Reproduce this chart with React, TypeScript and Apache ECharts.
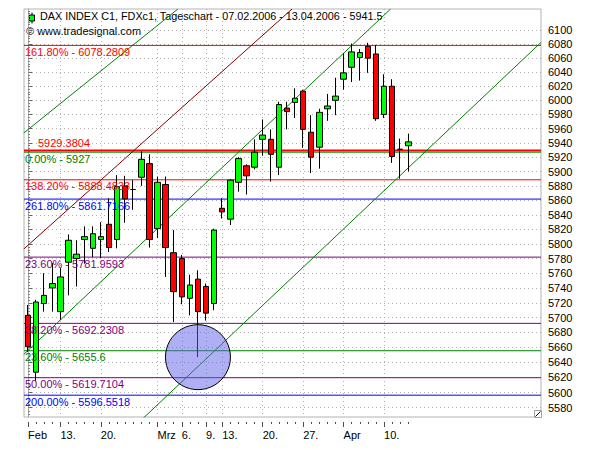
import React, { useEffect, useRef } from "react";
import * as echarts from "echarts";

// ---- data ----
const dates = [
  "07.02.2006", "08.02.2006", "09.02.2006", "10.02.2006", "13.02.2006", "14.02.2006", "15.02.2006", "16.02.2006",
  "17.02.2006", "20.02.2006", "21.02.2006", "22.02.2006", "23.02.2006", "24.02.2006", "27.02.2006", "28.02.2006",
  "01.03.2006", "02.03.2006", "03.03.2006", "06.03.2006", "07.03.2006", "08.03.2006", "09.03.2006", "10.03.2006",
  "13.03.2006", "14.03.2006", "15.03.2006", "16.03.2006", "17.03.2006", "20.03.2006", "21.03.2006", "22.03.2006",
  "23.03.2006", "24.03.2006", "27.03.2006", "28.03.2006", "29.03.2006", "30.03.2006", "31.03.2006", "03.04.2006",
  "04.04.2006", "05.04.2006", "06.04.2006", "07.04.2006", "10.04.2006", "11.04.2006", "12.04.2006", "13.04.2006",
];
const openP = [5703, 5627, 5719, 5740, 5708, 5775, 5780, 5806, 5794, 5806, 5827, 5806, 5880, 5875, 5892, 5911, 5821, 5882, 5788, 5780, 5726, 5752, 5742, 5719, 5849, 5834, 5885, 5908, 5906, 5945, 5945, 5906, 5989, 5997, 6013, 5955, 5934, 5988, 6000, 6030, 6047, 6061, 6077, 6066, 5980, 6020, 5931, 5936];
const closeP = [5661, 5721, 5730, 5746, 5755, 5805, 5786, 5810, 5814, 5810, 5795, 5879, 5862, 5875, 5917, 5806, 5885, 5795, 5735, 5728, 5744, 5708, 5706, 5819, 5844, 5888, 5918, 5894, 5927, 5951, 5924, 5994, 5984, 6003, 5959, 5920, 5983, 5992, 6006, 6039, 6069, 6068, 6060, 5974, 6020, 5921, 5931, 5941.5];
const lowP = [5654, 5615, 5708, 5708, 5697, 5730, 5742, 5773, 5782, 5781, 5789, 5794, 5829, 5847, 5880, 5795, 5808, 5755, 5694, 5718, 5703, 5647, 5696, 5710, 5835, 5826, 5872, 5868, 5903, 5922, 5886, 5895, 5959, 5975, 5933, 5898, 5904, 5971, 5979, 6015, 6026, 6028, 6039, 5971, 5975, 5912, 5890, 5900];
const highP = [5717, 5724, 5760, 5774, 5767, 5813, 5805, 5824, 5824, 5830, 5863, 5895, 5894, 5888, 5928, 5924, 5893, 5893, 5819, 5785, 5758, 5764, 5746, 5821, 5863, 5889, 5920, 5910, 5945, 5973, 5959, 5998, 5998, 6017, 6015, 5979, 5988, 6009, 6032, 6067, 6081, 6073, 6082, 6079, 6037, 6030, 5946, 5953];

const yTickLabels = [5580, 5600, 5620, 5640, 5660, 5680, 5700, 5720, 5740, 5760, 5780, 5800, 5820, 5840, 5860, 5880, 5900, 5920, 5940, 5960, 5980, 6000, 6020, 6040, 6060, 6080, 6100];
const xTickIdx = [0, 4, 9, 16, 19, 22, 24, 29, 34, 39, 44];
const xTickText = ["Feb", "13.", "20.", "Mrz", "6.", "9.", "13.", "20.", "27.", "Apr", "10."];

const levelValues = [6078.2809, 5929.3804, 5927, 5888.4833, 5861.7166, 5781.9593, 5692.2308, 5655.6, 5619.7104, 5596.5518];
const levelTexts = [
  "161.80% - 6078.2809", "5929.3804", "0.00% - 5927", "138.20% - 5888.4833", "261.80% - 5861.7166",
  "23.60% - 5781.9593", "38.20% - 5692.2308", "23.60% - 5655.6", "50.00% - 5619.7104", "200.00% - 5596.5518",
];

// trend lines: [index, price] endpoints
const trendDarkRed = [[-0.53, 5793], [32.63, 6130.75]];
const trendGreenTop = [[-0.53, 5953.9], [18.52, 6130.75]];
const trendGreenMid = [[-0.53, 5650.7], [44.81, 6130.75]];
const trendGreenLow = [[13.82, 5562], [63.41, 6082.7]];

const circlePoint = [21, 5647];

// ---- styles ----
const FONT = '"Liberation Sans", Arial, sans-serif';
const RED = "#ff0000";
const GREEN = "#008000";
const BLUE = "#0000ff";
const PURPLE = "#800080";
const levelStyles = [
  { color: RED, width: 1, pos: "insideStartBottom", dist: [1, 1] },
  { color: RED, width: 2, pos: "insideStartTop", dist: [14, 2] },
  { color: GREEN, width: 1, pos: "insideStartBottom", dist: [1, 1] },
  { color: RED, width: 1, pos: "insideStartBottom", dist: [1, 1] },
  { color: BLUE, width: 1, pos: "insideStartBottom", dist: [1, 1] },
  { color: PURPLE, width: 1, pos: "insideStartBottom", dist: [1, 1] },
  { color: PURPLE, width: 1, pos: "insideStartBottom", dist: [1, 1] },
  { color: GREEN, width: 1, pos: "insideStartBottom", dist: [1, 1] },
  { color: PURPLE, width: 1, pos: "insideStartBottom", dist: [1, 1] },
  { color: BLUE, width: 1, pos: "insideStartBottom", dist: [1, 1] },
];

const L = Math.log;
const Y_MIN = L(5567.8);
const Y_MAX = L(6130.75);
const X_MIN = -0.5;
const X_MAX = 63.4;
const CLEAR = "rgba(255,255,255,0)";

function buildOption() {
  const lnTicks = yTickLabels.map((v) => L(v));
  const minorTicks: number[] = [];
  for (let v = 5572; v <= 6128; v += 4) minorTicks.push(L(v));
  const dayIdx = dates.map((_, i) => i);

  const trend = (pts: number[][], color: string) => ({
    type: "line",
    data: pts.map((p) => [p[0], L(p[1])]),
    color,
    symbol: "none",
    showSymbol: false,
    silent: true,
    clip: true,
    z: 1,
    lineStyle: { color, width: 1 },
  });

  const levelSeries = levelValues.map((v, i) => {
    const st = levelStyles[i];
    return {
      type: "line",
      color: st.color,
      silent: true,
      clip: true,
      z: 1,
      symbol: "none",
      showSymbol: false,
      lineStyle: { color: st.color, width: st.width, type: "solid" },
      emphasis: { disabled: true },
      data: [
        [X_MIN, L(v)],
        [X_MAX, L(v)],
      ],
    };
  });

  const labelSeries = {
    type: "line",
    data: [],
    silent: true,
    z: 2,
    color: CLEAR,
    markLine: {
      silent: true,
      precision: 10,
      symbol: ["none", "none"],
      animation: false,
      emphasis: { disabled: true },
      lineStyle: { color: CLEAR, width: 1, type: "solid" },
      data: levelValues.map((v, i) => ({
        yAxis: L(v),
        lineStyle: { color: CLEAR, width: 1, type: "solid" },
        label: {
          show: true,
          position: levelStyles[i].pos,
          distance: levelStyles[i].dist,
          formatter: levelTexts[i],
          color: levelStyles[i].color,
          fontSize: 11,
          fontFamily: FONT,
        },
      })),
    },
  };

  return {
    animation: false,
    grid: {
      left: 24,
      right: 59,
      top: 9,
      bottom: 33,
      show: true,
      borderColor: "#b4b4b4",
      borderWidth: 1,
      backgroundColor: "transparent",
      containLabel: false,
      outerBoundsMode: "none",
    },
    xAxis: [
      {
        type: "value",
        min: X_MIN,
        max: X_MAX,
        position: "bottom",
        offset: 5,
        axisLine: { show: false },
        axisTick: { show: true, customValues: xTickIdx, length: 5, lineStyle: { color: "#505050" } },
        axisLabel: {
          show: true,
          customValues: xTickIdx,
          formatter: (v: number) => xTickText[xTickIdx.indexOf(Math.round(v))] ?? "",
          align: "left",
          margin: 7,
          fontSize: 11,
          fontFamily: FONT,
          color: "#000",
        },
        splitLine: { show: true, lineStyle: { color: "#b0b0b0", type: [1, 3], width: 1 } },
      },
      {
        type: "value",
        min: X_MIN,
        max: X_MAX,
        position: "bottom",
        offset: 5,
        axisLine: { show: false },
        axisTick: { show: true, customValues: dayIdx, length: 2, lineStyle: { color: "#505050" } },
        axisLabel: { show: false },
        splitLine: { show: false },
      },
    ],
    yAxis: [
      {
        type: "value",
        min: Y_MIN,
        max: Y_MAX,
        position: "right",
        axisLine: { show: true, lineStyle: { color: "#a8a8a8" } },
        axisTick: { show: true, customValues: lnTicks, length: 4, lineStyle: { color: "#606060" } },
        axisLabel: {
          show: true,
          customValues: lnTicks,
          formatter: (v: number) => {
            let best = 0;
            for (let i = 1; i < lnTicks.length; i++) if (Math.abs(lnTicks[i] - v) < Math.abs(lnTicks[best] - v)) best = i;
            return String(yTickLabels[best]);
          },
          margin: 7,
          fontSize: 11,
          fontFamily: FONT,
          color: "#000",
        },
        splitLine: { show: true, lineStyle: { color: "#b0b0b0", type: [1, 3], width: 1 } },
      },
      {
        type: "value",
        min: Y_MIN,
        max: Y_MAX,
        position: "right",
        axisLine: { show: false },
        axisTick: { show: true, customValues: minorTicks, length: 2, lineStyle: { color: "#808080" } },
        axisLabel: { show: false },
        splitLine: { show: false },
      },
    ],
    series: [
      ...levelSeries,
      labelSeries,
      trend(trendDarkRed, "#800000"),
      trend(trendGreenTop, GREEN),
      trend(trendGreenMid, GREEN),
      trend(trendGreenLow, GREEN),
      {
        type: "candlestick",
        data: dates.map((_, i) => [i, L(openP[i]), L(closeP[i]), L(lowP[i]), L(highP[i])]),
        barWidth: 6,
        z: 3,
        silent: true,
        itemStyle: {
          color: "#00ff00",
          color0: "#ff0000",
          borderColor: "#000",
          borderColor0: "#000",
          borderColorDoji: "#000",
          borderWidth: 1,
        },
      },
      {
        type: "scatter",
        data: [[circlePoint[0], L(circlePoint[1])]],
        symbol: "circle",
        symbolSize: 65,
        silent: true,
        z: 4,
        itemStyle: { color: "rgba(96,96,232,0.5)", borderColor: "#000", borderWidth: 1, opacity: 1 },
      },
    ],
    graphic: [
      {
        type: "group",
        left: 29,
        top: 10,
        children: [
          { type: "line", shape: { x1: 2.5, y1: 0, x2: 2.5, y2: 11 }, style: { stroke: "#000", lineWidth: 1 } },
          { type: "rect", shape: { x: 0, y: 2.5, width: 5, height: 6 }, style: { fill: "#00ff00", stroke: "#000", lineWidth: 1 } },
        ],
      },
      {
        type: "text",
        left: 40,
        top: 10,
        style: { text: "DAX INDEX C1, FDXc1, Tageschart - 07.02.2006 - 13.04.2006 - 5941.5", font: `10.8px ${FONT}`, fill: "#000" },
      },
      {
        type: "text",
        left: 26,
        top: 25,
        style: { text: "© www.tradesignal.com", font: `11px ${FONT}`, fill: "#000" },
      },
      {
        type: "group",
        left: 533,
        top: 409,
        children: [
          { type: "rect", shape: { x: 0.5, y: 0.5, width: 7, height: 7 }, style: { fill: "#ffffff", stroke: "#a0a0a0", lineWidth: 1 } },
          { type: "line", shape: { x1: 1.5, y1: 6.5, x2: 6.5, y2: 1.5 }, style: { stroke: "#000", lineWidth: 1 } },
        ],
      },
    ],
  };
}

export default function App() {
  const ref = useRef<HTMLDivElement>(null);
  useEffect(() => {
    if (!ref.current) return;
    const chart = echarts.init(ref.current, undefined, { renderer: "svg" });
    chart.setOption(buildOption() as any);
    return () => chart.dispose();
  }, []);
  return (
    <div
      ref={ref}
      style={{ position: "fixed", left: 0, top: 0, width: 600, height: 450, background: "#ffffff" }}
    />
  );
}
